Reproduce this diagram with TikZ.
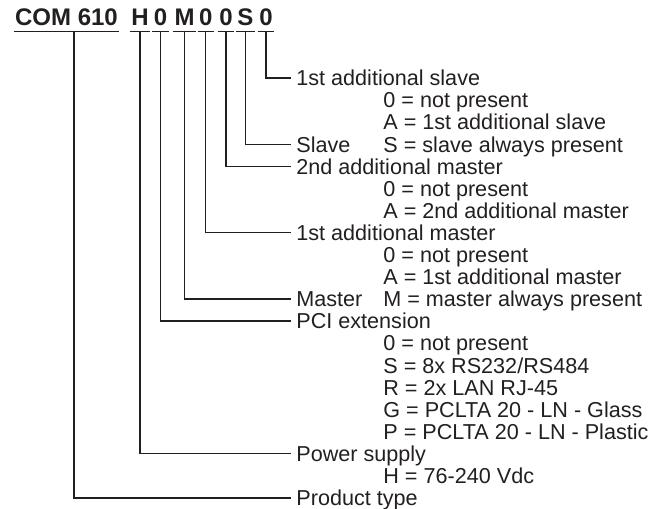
\documentclass[tikz,border=0pt]{standalone}
\usepackage{fontspec}
\setmainfont{Liberation Sans}
\usetikzlibrary{positioning}
\definecolor{inkgray}{RGB}{35,31,32}

\tikzset{
  codehead/.style={font=\fontsize{12}{12}\selectfont\bfseries, text=inkgray,
    inner xsep=0.5pt, inner ysep=0pt, text height=8.6pt, text depth=3pt, anchor=base},
  fieldlabel/.style={font=\fontsize{10.8}{11}\selectfont, text=inkgray,
    inner xsep=2.5pt, inner ysep=0pt, text height=7.75pt, text depth=0pt, anchor=west},
  fieldvalue/.style={fieldlabel, inner xsep=0pt},
  leader/.style={draw=inkgray, line width=0.65pt}
}

\begin{document}
\begin{tikzpicture}[x=0.5pt,y=-0.5pt]
\useasboundingbox (0,0) rectangle (649,509);

% type code
\node[codehead] (hcom)  at (66.5,25)  {COM 610};
\node[codehead] (hps)   at (140,25)   {H};
\node[codehead] (hpci)  at (160.5,25) {0};
\node[codehead] (hmst)  at (184.5,25) {M};
\node[codehead] (hmst1) at (205.8,25) {0};
\node[codehead] (hmst2) at (226,25)   {0};
\node[codehead] (hslv)  at (245.5,25) {S};
\node[codehead] (hslv1) at (266,25)   {0};
\foreach \n in {hcom,hps,hpci,hmst,hmst1,hmst2,hslv,hslv1}
  \draw[leader] (\n.south west) -- (\n.south east);

% field names
\node[fieldlabel] (lslv1)  at (291,78)    {1st additional slave};
\node[fieldlabel] (lslv)   at (291,144.3) {Slave};
\node[fieldlabel] (lmst2)  at (291,166.4) {2nd additional master};
\node[fieldlabel] (lmst1)  at (291,232.7) {1st additional master};
\node[fieldlabel] (lmst)   at (291,299)   {Master};
\node[fieldlabel] (lpci)   at (291,321.1) {PCI extension};
\node[fieldlabel] (lps)    at (291,453.7) {Power supply};
\node[fieldlabel] (lprod)  at (291,497.9) {Product type};

% options
\node[fieldvalue] (vslv1a) at (383,100.1) {0 = not present};
\node[fieldvalue] (vslv1b) at (383,122.2) {A = 1st additional slave};
\node[fieldvalue] (vslv)   at (383,144.3) {S = slave always present};
\node[fieldvalue] (vmst2a) at (383,188.5) {0 = not present};
\node[fieldvalue] (vmst2b) at (383,210.6) {A = 2nd additional master};
\node[fieldvalue] (vmst1a) at (383,254.8) {0 = not present};
\node[fieldvalue] (vmst1b) at (383,276.9) {A = 1st additional master};
\node[fieldvalue] (vmst)   at (383,299)   {M = master always present};
\node[fieldvalue] (vpcia)  at (383,343.2) {0 = not present};
\node[fieldvalue] (vpcib)  at (383,365.3) {S = 8x RS232/RS484};
\node[fieldvalue] (vpcic)  at (383,387.4) {R = 2x LAN RJ-45};
\node[fieldvalue] (vpcid)  at (383,409.5) {G = PCLTA 20 - LN - Glass};
\node[fieldvalue] (vpcie)  at (383,431.6) {P = PCLTA 20 - LN - Plastic};
\node[fieldvalue] (vps)    at (383,475.8) {H = 76-240 Vdc};

% leaders
\draw[leader] (hslv1.south) |- (lslv1.west);
\draw[leader] (hslv.south)  |- (lslv.west);
\draw[leader] (hmst2.south) |- (lmst2.west);
\draw[leader] (hmst1.south) |- (lmst1.west);
\draw[leader] (hmst.south)  |- (lmst.west);
\draw[leader] (hpci.south)  |- (lpci.west);
\draw[leader] (hps.south)   |- (lps.west);
\draw[leader] ([xshift=3.75pt]hcom.south) |- (lprod.west);
\end{tikzpicture}
\end{document}
